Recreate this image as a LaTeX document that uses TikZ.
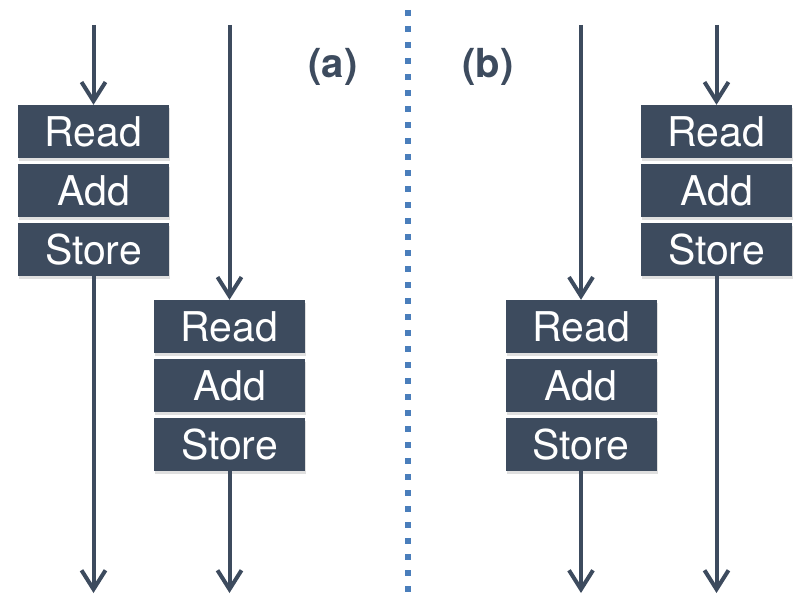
\documentclass[tikz,border=0pt]{standalone}
\usepackage{fontspec}
\setmainfont{TeX Gyre Heros}
\usepackage{tikz}
\usepackage{xcolor}
\usetikzlibrary{arrows.meta,positioning,shadows}
\definecolor{opSlate}{HTML}{3D4B5E}
\definecolor{sepBlue}{HTML}{4A7EBB}

\tikzset{
  opbox/.style={fill=opSlate,text=white,minimum width=151pt,minimum height=53pt,
                inner sep=0pt,font=\fontsize{41}{44}\selectfont,
                drop shadow={shadow xshift=1pt,shadow yshift=-3pt,opacity=0.25}},
  flow/.style={draw=opSlate,line width=4pt,
               -{Straight Barb[length=19pt,width=24pt]}},
  tag/.style={text=opSlate,font=\fontsize{40}{44}\selectfont\bfseries},
  sepline/.style={draw=sepBlue,line width=6pt,dash pattern=on 6pt off 10pt}
}

\begin{document}
\begin{tikzpicture}[x=1pt,y=-1pt]
    \useasboundingbox (0,0) rectangle (794,594);

    % (a): one thread after the other
    \node[opbox] (readA1) at (93.5,131.5) {Read};
    \node[opbox,below=6pt of readA1] (addA1) {Add};
    \node[opbox,below=5pt of addA1] (storeA1) {Store};
    \node[opbox] (readA2) at (229.5,326.5) {Read};
    \node[opbox,below=6pt of readA2] (addA2) {Add};
    \node[opbox,below=5pt of addA2] (storeA2) {Store};

    \coordinate (topA1) at (93.5,25);
    \coordinate (endA1) at (93.5,593);
    \coordinate (topA2) at (229.5,25);
    \coordinate (endA2) at (229.5,593);
    \draw[flow] (topA1) -- (readA1.north);
    \draw[flow] (storeA1.south) -- (endA1);
    \draw[flow] (topA2) -- (readA2.north);
    \draw[flow] (storeA2.south) -- (endA2);

    \node[tag] (tagA) at (333,67) {(a)};

    % separator
    \coordinate (sepTop) at (408,10);
    \coordinate (sepEnd) at (408,594);
    \draw[sepline] (sepTop) -- (sepEnd);

    % (b): the other order
    \node[opbox] (readB1) at (581,326.5) {Read};
    \node[opbox,below=6pt of readB1] (addB1) {Add};
    \node[opbox,below=5pt of addB1] (storeB1) {Store};
    \node[opbox] (readB2) at (716.5,131.5) {Read};
    \node[opbox,below=6pt of readB2] (addB2) {Add};
    \node[opbox,below=5pt of addB2] (storeB2) {Store};

    \coordinate (topB1) at (581,25);
    \coordinate (endB1) at (581,593);
    \coordinate (topB2) at (716.5,25);
    \coordinate (endB2) at (716.5,593);
    \draw[flow] (topB1) -- (readB1.north);
    \draw[flow] (storeB1.south) -- (endB1);
    \draw[flow] (topB2) -- (readB2.north);
    \draw[flow] (storeB2.south) -- (endB2);

    \node[tag] (tagB) at (488,67) {(b)};
\end{tikzpicture}
\end{document}
